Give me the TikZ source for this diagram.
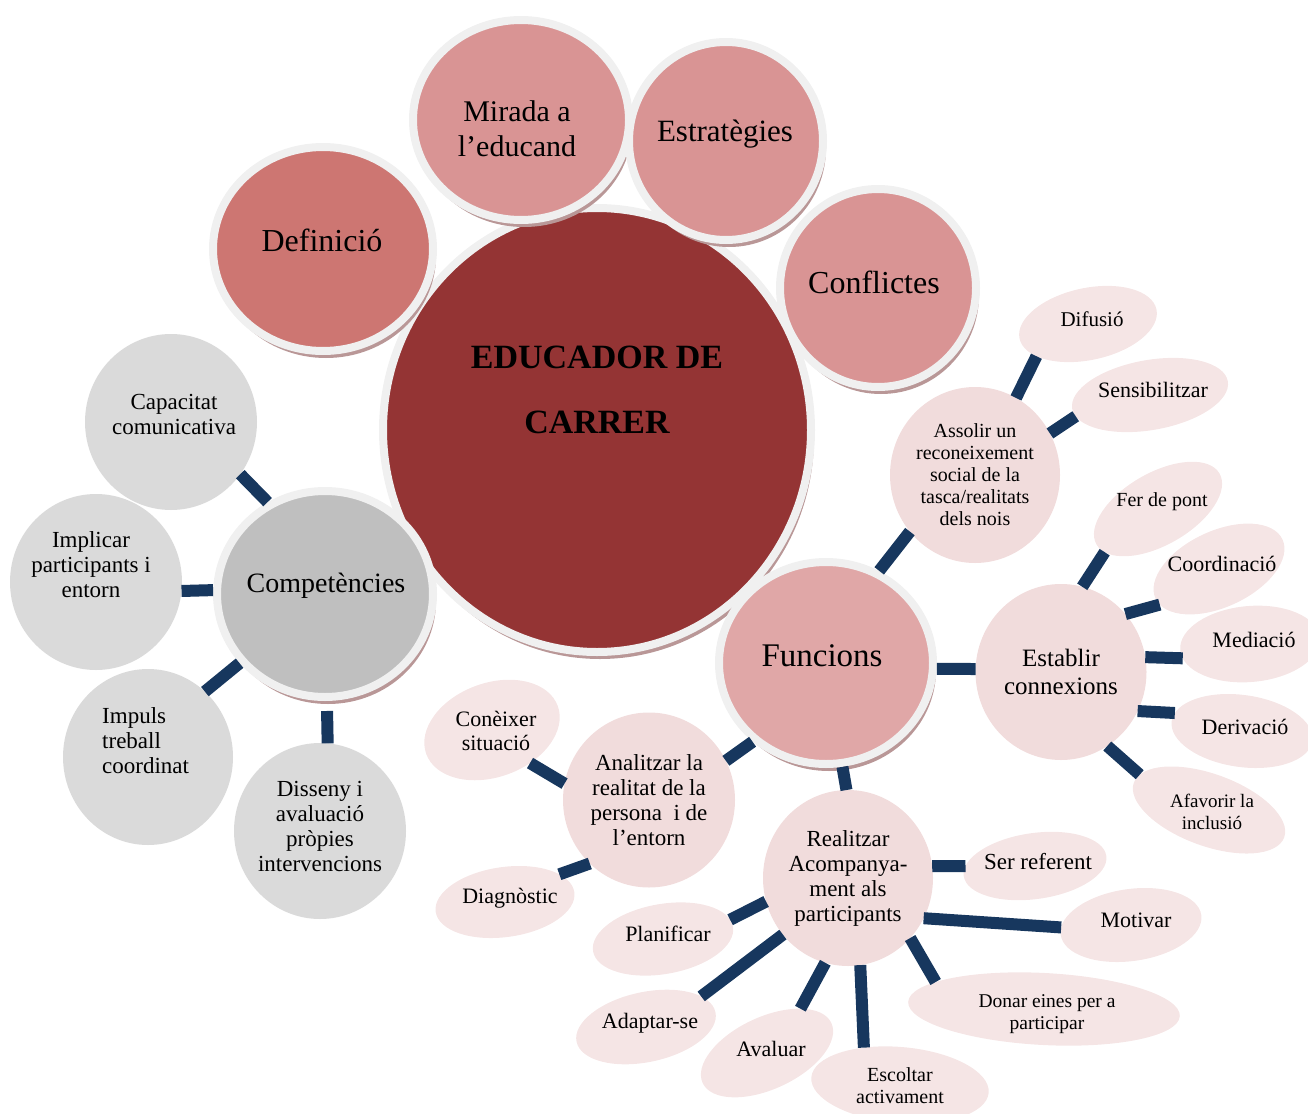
\documentclass[tikz,border=0pt]{standalone}
\usepackage{fontspec}
\setmainfont{Liberation Serif}
\usetikzlibrary{shapes.geometric,shadows}

\definecolor{maincol}{HTML}{943434}
\definecolor{defcol}{HTML}{CD7672}
\definecolor{topcol}{HTML}{D99494}
\definecolor{funccol}{HTML}{E0A7A7}
\definecolor{compcol}{HTML}{BFBFBF}
\definecolor{midcol}{HTML}{F1DCDC}
\definecolor{leafcol}{HTML}{F5E5E5}
\definecolor{graycol}{HTML}{DADADA}
\definecolor{ringcol}{HTML}{F0F0F0}
\definecolor{shadowcol}{HTML}{B99797}
\definecolor{linkcol}{HTML}{17375E}

\begin{document}
\begin{tikzpicture}[x=1pt,y=-1pt,
    bubble/.style={ellipse, draw=ringcol, line width=8pt, inner sep=0pt,
      drop shadow={shadow xshift=3pt, shadow yshift=-7pt, fill=shadowcol, opacity=1}},
    mid/.style={ellipse, fill=midcol, inner sep=0pt, outer sep=0pt, align=center},
    leaf/.style={ellipse, fill=leafcol, inner sep=0pt, outer sep=0pt},
    gleaf/.style={ellipse, fill=graycol, inner sep=0pt, outer sep=0pt},
    txt/.style={align=center, inner sep=0pt, font=\fontsize{22}{25}\selectfont},
    link/.style={draw=linkcol, line width=12pt}]
  \useasboundingbox (0,0) rectangle (1308,1113);

  % centre and first ring
  \node[bubble, fill=maincol, minimum width=428pt, minimum height=444pt] (educador) at (597,430) {};
  \node[txt, font=\bfseries\fontsize{34}{65}\selectfont] at (597,390) {EDUCADOR DE\\CARRER};
  \node[bubble, fill=defcol, minimum width=220pt, minimum height=204pt] (definicio) at (323,249) {};
  \node[txt, font=\fontsize{32}{36}\selectfont] at (322,240) {Definició};
  \node[bubble, fill=topcol, minimum width=216pt, minimum height=200pt] (mirada) at (521,120) {};
  \node[txt, font=\fontsize{30}{35}\selectfont] at (517,129) {Mirada a\\l’educand};
  \node[bubble, fill=topcol, minimum width=194pt, minimum height=198pt] (estrategies) at (726,141) {};
  \node[txt, font=\fontsize{31}{35}\selectfont] at (725,134) {Estratègies};
  \node[bubble, fill=topcol, minimum width=196pt, minimum height=198pt] (conflictes) at (878,288) {};
  \node[txt, font=\fontsize{32}{36}\selectfont] at (874,282) {Conflictes};
  \node[bubble, fill=compcol, minimum width=216pt, minimum height=206pt] (competencies) at (325,594) {};
  \node[txt, font=\fontsize{28}{32}\selectfont] at (326,586) {Competències};
  \node[bubble, fill=funccol, minimum width=214pt, minimum height=202pt] (funcions) at (826,663) {};
  \node[txt, font=\fontsize{33}{36}\selectfont] at (822,656) {Funcions};

  % competencies
  \node[gleaf, minimum width=172pt, minimum height=176pt] (capacitat) at (171,422) {};
  \node[txt, font=\fontsize{23}{25}\selectfont] at (174,414) {Capacitat\\comunicativa};
  \node[gleaf, minimum width=172pt, minimum height=176pt] (implicar) at (96,582) {};
  \node[txt, font=\fontsize{23}{25}\selectfont] at (91,565) {Implicar\\participants i\\entorn};
  \node[gleaf, minimum width=170pt, minimum height=176pt] (impuls) at (148,757) {};
  \node[txt, align=left, anchor=west, font=\fontsize{23}{25}\selectfont] at (102,741) {Impuls\\treball\\coordinat};
  \node[gleaf, minimum width=172pt, minimum height=176pt] (disseny) at (320,831) {};
  \node[txt, font=\fontsize{23}{25}\selectfont] at (320,826) {Disseny i\\avaluació\\pròpies\\intervencions};

  % funcions
  \node[mid, minimum width=170pt, minimum height=176pt, font=\fontsize{20}{22}\selectfont] (assolir) at (975,475) {Assolir un\\reconeixement\\social de la\\tasca/realitats\\dels nois};
  \node[mid, minimum width=171pt, minimum height=176pt, font=\fontsize{25}{28}\selectfont] (establir) at (1061,672) {Establir\\connexions};
  \node[mid, minimum width=172pt, minimum height=175pt, font=\fontsize{23}{25}\selectfont] (analitzar) at (649,800) {Analitzar la\\realitat de la\\persona\ \ i de\\l’entorn};
  \node[mid, minimum width=170pt, minimum height=176pt, font=\fontsize{23}{25}\selectfont] (realitzar) at (848,878) {Realitzar\\Acompanya-\\ment als\\participants};

  \node[leaf, minimum width=140pt, minimum height=72pt, rotate=12] (difusio) at (1088,324) {};
  \node[txt, font=\fontsize{21}{24}\selectfont] at (1092,319) {Difusió};
  \node[leaf, minimum width=158pt, minimum height=70pt, rotate=10] (sensibilitzar) at (1150,395) {};
  \node[txt] at (1153,390) {Sensibilitzar};
  \node[leaf, minimum width=142pt, minimum height=72pt, rotate=30] (pont) at (1158,509) {};
  \node[txt, font=\fontsize{20}{24}\selectfont] at (1162,502) {Fer de pont};
  \node[leaf, minimum width=140pt, minimum height=76pt, rotate=25] (coordinacio) at (1219,569) {};
  \node[txt] at (1222,564) {Coordinació};
  \node[leaf, minimum width=140pt, minimum height=76pt, rotate=5] (mediacio) at (1250,644) {};
  \node[txt] at (1254,640) {Mediació};
  \node[leaf, minimum width=142pt, minimum height=72pt, rotate=-8] (derivacio) at (1242,731) {};
  \node[txt] at (1245,727) {Derivació};
  \node[leaf, minimum width=160pt, minimum height=72pt, rotate=-20] (afavorir) at (1209,810) {};
  \node[txt, font=\fontsize{19}{22}\selectfont] at (1212,812) {Afavorir la\\inclusió};
  \node[leaf, minimum width=140pt, minimum height=94pt, rotate=20] (coneixer) at (492,730) {};
  \node[txt, font=\fontsize{22}{24}\selectfont] at (496,731) {Conèixer\\situació};
  \node[leaf, minimum width=140pt, minimum height=70pt, rotate=8] (diagnostic) at (505,902) {};
  \node[txt] at (510,898) {Diagnòstic};
  \node[leaf, minimum width=142pt, minimum height=70pt, rotate=10] (planificar) at (663,939) {};
  \node[txt] at (668,934) {Planificar};
  \node[leaf, minimum width=142pt, minimum height=70pt, rotate=12] (adaptar) at (646,1027) {};
  \node[txt] at (650,1023) {Adaptar-se};
  \node[leaf, minimum width=142pt, minimum height=72pt, rotate=25] (avaluar) at (767,1053) {};
  \node[txt] at (771,1049) {Avaluar};
  \node[leaf, minimum width=178pt, minimum height=76pt, rotate=-5] (escoltar) at (900,1085) {};
  \node[txt, font=\fontsize{20}{22}\selectfont] at (900,1086) {Escoltar\\activament};
  \node[leaf, minimum width=272pt, minimum height=72pt, rotate=-3] (donar) at (1044,1009) {};
  \node[txt, font=\fontsize{19.5}{22}\selectfont] at (1047,1014) {Donar eines per a\\participar};
  \node[leaf, minimum width=142pt, minimum height=72pt, rotate=8] (motivar) at (1131,925) {};
  \node[txt] at (1136,920) {Motivar};
  \node[leaf, minimum width=144pt, minimum height=66pt, rotate=8] (serreferent) at (1035,866) {};
  \node[txt, font=\fontsize{23}{25}\selectfont] at (1038,862) {Ser referent};

  % connectors
  \draw[link] (funcions.60) -- (assolir.-139);
  \draw[link] (assolir.62) -- (difusio.-160);
  \draw[link] (assolir.29) -- (sensibilitzar.-174);
  \draw[link] (funcions.-3) -- (establir.178);
  \draw[link] (establir.76) -- (pont.-171);
  \draw[link] (establir.42) -- (coordinacio.-174);
  \draw[link] (establir.10) -- (mediacio.-173);
  \draw[link] (establir.-27) -- (derivacio.173);
  \draw[link] (establir.-58) -- (afavorir.173);
  \draw[link] (funcions.-133) -- (analitzar.27);
  \draw[link] (analitzar.169) -- (coneixer.-61);
  \draw[link] (analitzar.-133) -- (diagnostic.19);
  \draw[link] (funcions.-81) -- (realitzar.91);
  \draw[link] (realitzar.8) -- (serreferent.172);
  \draw[link] (realitzar.-28) -- (motivar.174);
  \draw[link] (realitzar.-44) -- (donar.169);
  \draw[link] (realitzar.-82) -- (escoltar.139);
  \draw[link] (realitzar.-105) -- (avaluar.28);
  \draw[link] (realitzar.-139) -- (adaptar.17);
  \draw[link] (realitzar.-164) -- (planificar.6);
  \draw[link] (competencies.122) -- (capacitat.-37);
  \draw[link] (competencies.178) -- (implicar.-6);
  \draw[link] (competencies.-141) -- (impuls.49);
  \draw[link, shorten <=10pt] (competencies.-89) -- (disseny.85);
\end{tikzpicture}
\end{document}
